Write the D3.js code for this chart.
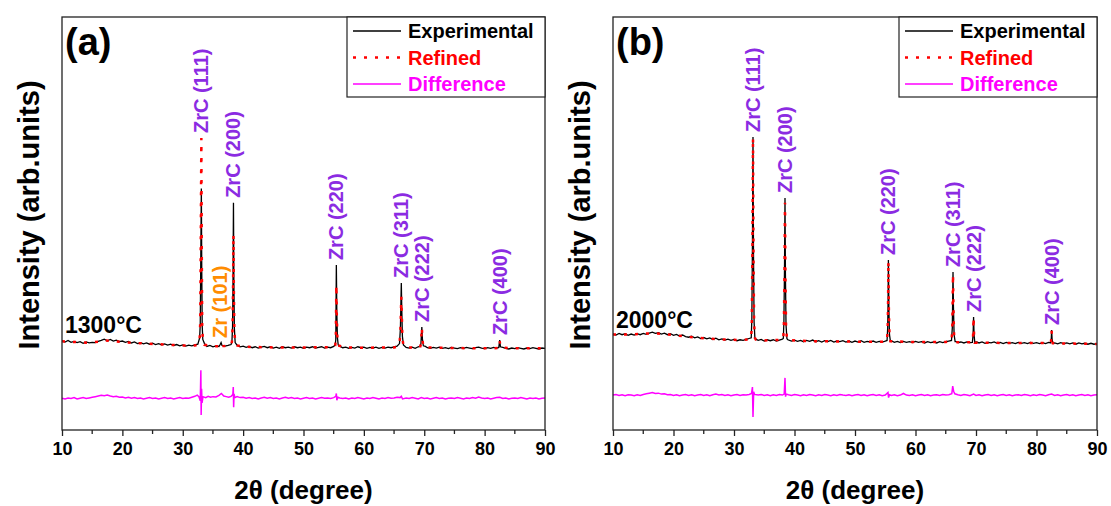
<!DOCTYPE html>
<html>
<head>
<meta charset="utf-8">
<script src="https://cdn.jsdelivr.net/npm/d3@7"></script>
<style>
  body { margin: 0; background: #fff; }
  text { font-family: Arial, "Liberation Sans", sans-serif; font-weight: bold; }
</style>
</head>
<body>
<div class="chart"></div>
<script>
// tick labels and legend
const xTicks = [10, 20, 30, 40, 50, 60, 70, 80, 90];
const xMinorTicks = [15, 25, 35, 45, 55, 65, 75, 85];
const legendNames = ['Experimental', 'Refined', 'Difference'];
const panelNames = ['(a)', '(b)'];
const tempNames = ['1300°C', '2000°C'];

// (a) 1300 C : [2theta, intensity]
const expA = [
  [10,20],[10.5,17],[11,22],[11.5,16],[12,19],[12.5,15],[13,18],[13.5,13],[14,17],[14.5,14],[15,16],[15.5,15],[16,19],[16.5,22],[17,26],[17.5,21],[18,25],[18.5,20],[19,23],[19.5,18],
  [20,20],[20.5,16],[21,19],[21.5,14],[22,17],[22.5,12],[23,15],[23.5,11],[24,14],[24.5,10],[25,13],[25.5,9],[26,12],[26.5,8],[27,11],[27.5,7],[28,10],[28.5,6],[29,9],[29.5,5],
  [30,8],[30.5,4],[31,7],[31.5,5],[32,8],[32.5,10],
  [32.8,30],[32.9,75],[32.98,260],[33.08,500],[33.15,240],[33.22,70],[33.32,25],
  [33.6,12],[34,3],[34.5,6],[35,2],[35.5,5],[36,3],[36.2,9],[36.35,15],[36.5,6],[37,4],[37.5,6],[38,9],
  [38.15,20],[38.25,65],[38.33,220],[38.4,455],[38.47,200],[38.55,60],[38.68,15],
  [39,7],[39.5,2],[40,4],[40.5,0],[41,3],[41.5,-1],[42,2],[42.5,-2],[43,1],[43.5,3],[44,-1],[44.5,2],[45,-2],[45.5,1],[46,-3],[46.5,2],[47,-1],[47.5,1],[48,-2],[48.5,2],[49,-1],[49.5,1],
  [50,-3],[50.5,1],[51,-1],[51.5,2],[52,-2],[52.5,0],[53,2],[53.5,-2],[54,1],[54.5,-1],[55,3],
  [55.25,8],[55.35,25],[55.44,259],[55.52,110],[55.62,30],[55.75,8],
  [56,4],[56.5,-1],[57,1],[57.5,-3],[58,0],[58.5,-2],[59,2],[59.5,-1],[60,1],[60.5,-3],[61,0],[61.5,-2],[62,1],[62.5,-3],[63,0],[63.5,-2],[64,1],[64.5,-1],[65,2],[65.5,4],
  [65.9,12],[66.05,60],[66.2,203],[66.28,120],[66.38,35],[66.55,8],
  [67,0],[67.5,-2],[68,1],[68.5,-3],[69,2],[69.3,3],
  [69.45,12],[69.6,64],[69.7,25],[69.85,5],
  [70.2,3],[70.5,-1],[71,-3],[71.5,0],[72,-2],[72.5,1],[73,-3],[73.5,-1],[74,-4],[74.5,0],[75,-2],[75.5,-4],[76,-1],[76.5,-3],[77,0],[77.5,-2],[78,-4],[78.5,-1],[79,1],[79.5,-2],
  [80,-4],[80.5,-1],[81,-3],[81.5,0],[82,-2],[82.35,0],[82.5,23],[82.62,2],
  [83,0],[83.5,-3],[84,-5],[84.5,-2],[85,-4],[85.5,-1],[86,-3],[86.5,-5],[87,-2],[87.5,-4],[88,-1],[88.5,-3],[89,-5],[89.5,-2],[90,-3]
];
const calcA = [
  [10,19],[12,17],[14,15],[16,18],[17,22],[18,21],[20,17],[22,14],[25,11],[28,8],[30,6],[32,6],[32.5,9],
  [32.8,28],[32.9,80],[32.98,320],[33.08,659],[33.15,300],[33.22,75],[33.32,25],[33.6,8],
  [35,4],[36.15,4],[36.35,13],[36.55,4],[38,6],
  [38.15,18],[38.25,60],[38.33,180],[38.4,355],[38.47,170],[38.55,55],[38.68,15],[39,6],
  [40,2],[45,0],[50,0],[55,1],
  [55.25,6],[55.35,22],[55.44,196],[55.52,95],[55.62,26],[55.75,6],
  [57,0],[60,-1],[65,0],[65.5,2],
  [65.9,10],[66.05,50],[66.2,159],[66.28,105],[66.38,30],[66.55,6],
  [67,0],[69.3,0],[69.45,10],[69.6,62],[69.7,24],[69.85,3],[70.2,0],
  [75,-2],[80,-3],[82.35,-2],[82.5,20],[82.62,0],[85,-3],[90,-3]
];
const diffA = [
  [10,0],[10.5,-2],[11,1],[11.5,-1],[12,2],[12.5,-2],[13,0],[13.5,2],[14,-1],[14.5,1],[15,3],[15.5,5],[16,7],[16.5,9],[17,8],[17.5,10],[18,7],[18.5,5],[19,6],[19.5,3],
  [20,4],[20.5,1],[21,3],[21.5,0],[22,2],[22.5,-1],[23,1],[23.5,-2],[24,0],[24.5,2],[25,-1],[25.5,1],[26,-2],[26.5,0],[27,2],[27.5,-1],[28,1],[28.5,-2],[29,0],[29.5,2],
  [30,-1],[30.5,1],[31,0],[31.5,3],[32,6],[32.4,10],[32.7,4],[32.9,-8],[33.0,88],[33.05,-53],[33.12,30],[33.2,-15],[33.35,5],[33.8,2],
  [34.2,6],[34.6,3],[35,5],[35.5,4],[36,9],[36.4,15],[36.8,7],[37.2,5],[37.6,3],[38,6],[38.3,12],[38.37,35],[38.43,-28],[38.5,14],[38.62,2],
  [39,5],[39.5,2],[40,3],[40.5,0],[41,2],[41.5,-1],[42,1],[42.5,-2],[43,1],[43.5,3],[44,0],[44.5,2],[45,-1],[45.5,1],[46,-2],[46.5,1],[47,3],[47.5,0],[48,2],[48.5,-1],[49,1],[49.5,-2],
  [50,0],[50.5,2],[51,-1],[51.5,1],[52,-2],[52.5,0],[53,2],[53.5,0],[54,1],[54.5,-1],[55,2],[55.35,6],[55.44,15],[55.52,-6],[55.7,3],
  [56,1],[56.5,-1],[57,1],[57.5,-2],[58,1],[58.5,-1],[59,2],[59.5,0],[60,-2],[60.5,1],[61,-1],[61.5,2],[62,0],[62.5,-2],[63,1],[63.5,-1],[64,2],[64.5,0],[65,1],[65.5,3],
  [66,2],[66.2,6],[66.4,-2],[67,1],[67.5,-1],[68,2],[68.5,0],[69,-2],[69.5,2],[70,-1],[70.5,1],[71,-2],[71.5,0],[72,2],[72.5,-1],[73,1],[73.5,-2],[74,0],[74.5,1],
  [75,-1],[75.5,2],[76,0],[76.5,-2],[77,1],[77.5,-1],[78,2],[78.5,0],[79,4],[79.5,1],[80,-1],[80.5,1],[81,-2],[81.5,0],[82,2],[82.5,3],[83,-1],[83.5,1],[84,-2],[84.5,0],
  [85,1],[85.5,-1],[86,2],[86.5,0],[87,-2],[87.5,1],[88,-1],[88.5,1],[89,-2],[89.5,0],[90,1]
];

// (b) 2000 C
const expB = [
  [10,42],[10.5,39],[11,44],[11.5,40],[12,43],[12.5,38],[13,42],[13.5,39],[14,43],[14.5,40],[15,44],[15.5,41],[16,45],[16.5,48],[17,44],[17.5,46],[18,42],[18.5,45],[19,40],[19.5,43],
  [20,38],[20.5,41],[21,36],[21.5,39],[22,34],[22.5,32],[23,35],[23.5,30],[24,33],[24.5,28],[25,31],[25.5,27],[26,30],[26.5,25],[27,29],[27.5,24],[28,27],[28.5,23],[29,26],[29.5,22],
  [30,25],[30.5,21],[31,24],[31.5,22],[32,25],[32.5,28],
  [32.85,30],[32.95,90],[33.05,330],[33.14,662],[33.22,300],[33.32,80],[33.45,30],
  [33.6,26],[34,22],[34.5,25],[35,20],[35.5,24],[36,21],[36.5,24],[37,20],[37.5,23],[38,26],
  [38.15,28],[38.25,80],[38.35,250],[38.43,470],[38.5,230],[38.6,70],[38.75,27],
  [38.9,24],[39.5,20],[40,23],[40.5,19],[41,22],[41.5,18],[42,22],[42.5,19],[43,23],[43.5,18],[44,21],[44.5,17],[45,21],[45.5,18],[46,22],[46.5,17],[47,20],[47.5,18],[48,21],[48.5,17],[49,20],[49.5,16],
  [50,20],[50.5,17],[51,21],[51.5,16],[52,19],[52.5,17],[53,20],[53.5,16],[54,19],[54.5,17],[55,20],
  [55.3,22],[55.4,60],[55.47,150],[55.52,275],[55.6,120],[55.7,40],[55.85,20],
  [56,21],[56.5,16],[57,19],[57.5,15],[58,19],[58.5,16],[59,18],[59.5,15],[60,19],[60.5,16],[61,18],[61.5,14],[62,18],[62.5,15],[63,17],[63.5,14],[64,18],[64.5,15],[65,18],[65.5,20],
  [65.95,22],[66.08,60],[66.15,160],[66.2,237],[66.27,130],[66.38,40],[66.55,18],
  [66.8,18],[67,15],[67.5,17],[68,14],[68.5,17],[69,15],
  [69.4,16],[69.52,40],[69.6,96],[69.68,40],[69.8,16],
  [70.1,17],[70.5,14],[71,17],[71.5,13],[72,16],[72.5,14],[73,17],[73.5,13],[74,16],[74.5,12],[75,16],[75.5,13],[76,15],[76.5,12],[77,16],[77.5,13],[78,15],[78.5,12],[79,16],[79.5,13],
  [80,15],[80.5,12],[81,15],[81.5,12],[82,16],
  [82.35,14],[82.45,30],[82.5,55],[82.58,25],[82.7,13],
  [83,14],[83.5,11],[84,15],[84.5,12],[85,14],[85.5,11],[86,14],[86.5,10],[87,14],[87.5,11],[88,13],[88.5,10],[89,13],[89.5,10],[90,12]
];
const calcB = [
  [10,41],[13,41],[16,44],[18,43],[20,39],[22,34],[25,29],[28,25],[31,23],[32.5,25],
  [32.85,30],[32.95,85],[33.05,320],[33.14,660],[33.22,290],[33.32,78],[33.45,30],[33.6,25],
  [35,22],[38,24],
  [38.15,27],[38.25,75],[38.35,240],[38.43,455],[38.5,225],[38.6,68],[38.75,26],[39,23],
  [42,20],[46,19],[50,18],[55,18],
  [55.3,21],[55.4,58],[55.47,145],[55.52,270],[55.6,118],[55.7,38],[55.85,19],[56,19],
  [60,17],[65,17],[65.95,20],[66.08,55],[66.15,150],[66.2,230],[66.27,125],[66.38,38],[66.55,17],[67,16],
  [69.3,16],[69.4,16],[69.52,38],[69.6,94],[69.68,38],[69.8,15],[70,15],
  [75,14],[80,14],[82.35,14],[82.45,28],[82.5,52],[82.58,24],[82.7,13],[86,12],[90,11]
];
const diffB = [
  [10,0],[10.5,2],[11,-1],[11.5,1],[12,-2],[12.5,1],[13,0],[13.5,-2],[14,1],[14.5,-1],[15,2],[15.5,4],[16,6],[16.5,8],[17,5],[17.5,6],[18,3],[18.5,4],[19,1],[19.5,2],
  [20,-1],[20.5,1],[21,-2],[21.5,0],[22,2],[22.5,-1],[23,1],[23.5,-2],[24,0],[24.5,2],[25,-1],[25.5,1],[26,-2],[26.5,1],[27,3],[27.5,0],[28,2],[28.5,-1],[29,1],[29.5,-2],
  [30,0],[30.5,2],[31,-1],[31.5,1],[32,0],[32.5,2],[32.9,5],[33.05,25],[33.14,-69],[33.25,10],[33.4,2],
  [34,0],[34.5,2],[35,-1],[35.5,1],[36,-2],[36.5,1],[37,-1],[37.5,2],[38,0],[38.3,3],[38.43,54],[38.52,-5],[38.65,3],
  [39,1],[39.5,-1],[40,2],[40.5,0],[41,-2],[41.5,1],[42,-1],[42.5,2],[43,0],[43.5,-2],[44,1],[44.5,-1],[45,2],[45.5,0],[46,-2],[46.5,1],[47,-1],[47.5,2],[48,0],[48.5,-1],[49,1],[49.5,-2],
  [50,0],[50.5,2],[51,-1],[51.5,1],[52,-2],[52.5,0],[53,2],[53.5,-1],[54,1],[54.5,-2],[55,0],[55.45,8],[55.55,-8],[55.7,1],
  [56,-1],[56.5,1],[57,-2],[57.5,0],[58,5],[58.5,0],[59,-1],[59.5,1],[60,-2],[60.5,0],[61,2],[61.5,-1],[62,1],[62.5,-2],[63,0],[63.5,1],[64,-1],[64.5,2],[65,0],[65.5,1],
  [66,4],[66.15,28],[66.3,12],[66.5,4],[67,1],[67.5,-1],[68,2],[68.5,0],[69,-2],[69.6,3],[70,-1],[70.5,1],[71,-2],[71.5,0],[72,2],[72.5,-1],[73,1],[73.5,-2],[74,0],[74.5,2],
  [75,-1],[75.5,1],[76,-2],[76.5,0],[77,1],[77.5,-1],[78,2],[78.5,0],[79,-2],[79.5,1],[80,-1],[80.5,2],[81,0],[81.5,-2],[82,1],[82.5,3],[83,-1],[83.5,1],[84,-2],[84.5,0],
  [85,2],[85.5,-1],[86,1],[86.5,-2],[87,0],[87.5,2],[88,-1],[88.5,1],[89,-2],[89.5,0],[90,1]
];
const diffOffsetA = -160;
const diffOffsetB = -150;

// peak labels: text, 2theta, peak top intensity
const peakNamesA = ['ZrC (111)', 'Zr (101)', 'ZrC (200)', 'ZrC (220)', 'ZrC (311)', 'ZrC (222)', 'ZrC (400)'];
const peakPosA = [33.08, 36.1, 38.4, 55.44, 66.2, 69.6, 82.5];
const peakTopA = [659, 14, 455, 259, 203, 64, 23];
const peakNamesB = ['ZrC (111)', 'ZrC (200)', 'ZrC (220)', 'ZrC (311)', 'ZrC (222)', 'ZrC (400)'];
const peakPosB = [33.14, 38.43, 55.52, 66.2, 69.6, 82.5];
const peakTopB = [662, 470, 275, 237, 96, 55];

const W = 1111, H = 506;
const plotTop = 17, plotBottom = 430;
const purple = '#8B2BE2', orange = '#FF8C00';

const svg = d3.select('.chart').append('svg')
  .attr('width', W)
  .attr('height', H);

const y = d3.scaleLinear().domain([-260, 1040]).range([plotBottom, plotTop]);

function drawPanel(p) {
  const x = d3.scaleLinear().domain([10, 90]).range([p.left, p.right]);
  const g = svg.append('g');
  const line = d3.line().x(d => x(d[0])).y(d => y(d[1]));
  const diffLine = d3.line().x(d => x(d[0])).y(d => y(d[1] + p.offset));

  g.append('path').datum(p.exp)
    .attr('d', line).attr('fill', 'none')
    .attr('stroke', '#000').attr('stroke-width', 1.3);
  g.append('path').datum(p.calc)
    .attr('d', line).attr('fill', 'none')
    .attr('stroke', '#f00').attr('stroke-width', 2.5)
    .attr('stroke-dasharray', '3,8');
  g.append('path').datum(p.diff)
    .attr('d', diffLine).attr('fill', 'none')
    .attr('stroke', '#f0f').attr('stroke-width', 1.5);

  // peak labels
  p.names.forEach((name, i) => {
    const px = x(p.pos[i]);
    const py = y(p.tops[i]) - 5;
    g.append('text')
      .attr('transform', `translate(${px + 7},${py}) rotate(-90)`)
      .attr('font-size', 20)
      .attr('fill', name.startsWith('ZrC') ? purple : orange)
      .text(name);
  });

  // frame
  g.append('rect')
    .attr('x', p.left).attr('y', plotTop)
    .attr('width', p.right - p.left).attr('height', plotBottom - plotTop)
    .attr('fill', 'none').attr('stroke', '#222').attr('stroke-width', 1.3);

  // x axis
  const axis = g.append('g').attr('transform', `translate(0,${plotBottom})`)
    .call(d3.axisBottom(x).tickValues(xTicks).tickSize(6).tickPadding(6).tickFormat(d3.format('d')));
  axis.select('.domain').remove();
  axis.selectAll('line').attr('stroke', '#222').attr('stroke-width', 1.3);
  axis.selectAll('text').attr('font-size', 18).attr('fill', '#000')
    .attr('font-family', 'Arial, "Liberation Sans", sans-serif').attr('font-weight', 'bold');
  g.append('g').attr('transform', `translate(0,${plotBottom})`)
    .selectAll('line').data(xMinorTicks).enter().append('line')
    .attr('x1', d => x(d)).attr('x2', d => x(d))
    .attr('y1', 0).attr('y2', 4)
    .attr('stroke', '#222').attr('stroke-width', 1.3);

  g.append('text')
    .attr('x', (p.left + p.right) / 2).attr('y', 499)
    .attr('text-anchor', 'middle').attr('font-size', 26)
    .text('2θ (degree)');
  g.append('text')
    .attr('transform', `translate(${p.left - 23},${215}) rotate(-90)`)
    .attr('text-anchor', 'middle').attr('font-size', 29)
    .text('Intensity (arb.units)');

  g.append('text').attr('x', p.left + 3).attr('y', 55)
    .attr('font-size', 38).text(p.label);
  g.append('text').attr('x', p.left + 3).attr('y', p.tempY)
    .attr('font-size', 23).text(p.temp);

  // legend
  const lx = p.right - 198;
  g.append('rect')
    .attr('x', lx).attr('y', plotTop)
    .attr('width', p.right - lx).attr('height', 80)
    .attr('fill', '#fff').attr('stroke', '#222').attr('stroke-width', 1.2);
  const styles = [
    { c: '#000', w: 1.3, dash: null, t: '#000' },
    { c: '#f00', w: 2.6, dash: '3,8', t: '#f00' },
    { c: '#f0f', w: 1.3, dash: null, t: '#f0f' }
  ];
  legendNames.forEach((name, i) => {
    const cy = 31 + i * 26.5;
    g.append('line')
      .attr('x1', lx + 6).attr('x2', lx + 54)
      .attr('y1', cy).attr('y2', cy)
      .attr('stroke', styles[i].c).attr('stroke-width', styles[i].w)
      .attr('stroke-dasharray', styles[i].dash);
    g.append('text')
      .attr('x', lx + 61).attr('y', cy + 7)
      .attr('font-size', 20).attr('fill', styles[i].t)
      .text(name);
  });
}

drawPanel({ left: 62, right: 545, exp: expA, calc: calcA, diff: diffA, offset: diffOffsetA,
  names: peakNamesA, pos: peakPosA, tops: peakTopA, label: panelNames[0], temp: tempNames[0], tempY: 333 });
drawPanel({ left: 613, right: 1097, exp: expB, calc: calcB, diff: diffB, offset: diffOffsetB,
  names: peakNamesB, pos: peakPosB, tops: peakTopB, label: panelNames[1], temp: tempNames[1], tempY: 328 });
</script>
</body>
</html>
